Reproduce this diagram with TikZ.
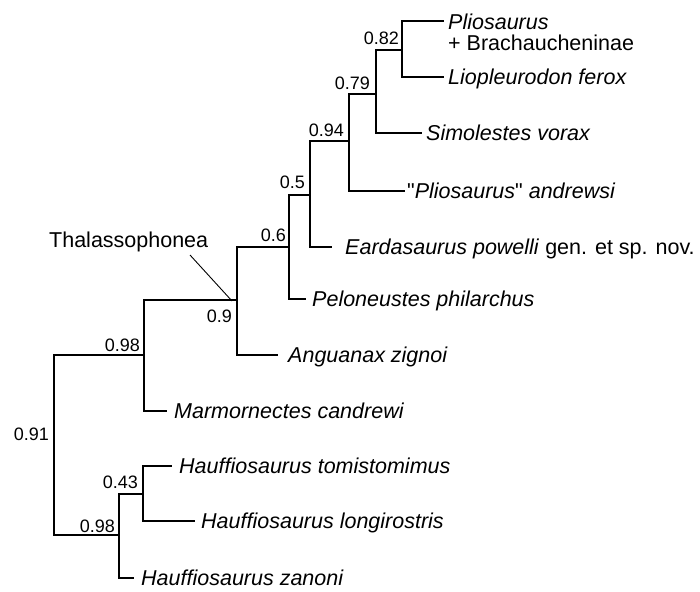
\documentclass[tikz,border=0pt]{standalone}
\usepackage{fontspec}
\setmainfont{Liberation Sans}[Ligatures=TeXOff]
\begin{document}
\begin{tikzpicture}[x=1pt,y=-1pt,
  branch/.style={line width=2.8pt,line join=miter},
  taxon/.style={anchor=base west,inner sep=0pt,font=\fontsize{21.5}{21}\selectfont},
  num/.style={anchor=base east,inner sep=0pt,font=\fontsize{18}{18}\selectfont},
  callout/.style={line width=0.9pt}]
\useasboundingbox (0,0) rectangle (700,591);
% internal nodes
\coordinate (root) at (54,445);
\coordinate (A) at (144,355);
\coordinate (T) at (237,300);
\coordinate (S6) at (289,247);
\coordinate (S5) at (310,195);
\coordinate (S94) at (349,141);
\coordinate (S79) at (376,94);
\coordinate (S82) at (402,50);
\coordinate (B) at (119,535);
\coordinate (C) at (143,494);
% leaves
\coordinate (plio) at (444,21);
\coordinate (lio) at (444,77);
\coordinate (sim) at (422,133);
\coordinate (and) at (405,191);
\coordinate (ear) at (332,247);
\coordinate (pel) at (306,299);
\coordinate (ang) at (278,355);
\coordinate (marm) at (167,411);
\coordinate (tom) at (172,466);
\coordinate (lon) at (195,521);
\coordinate (zan) at (134,578);
% branches
\draw[branch] (root) |- (A);
\draw[branch] (root) |- (B);
\draw[branch] (A) |- (T);
\draw[branch] (A) |- (marm);
\draw[branch] (T) |- (S6);
\draw[branch] (T) |- (ang);
\draw[branch] (S6) |- (S5);
\draw[branch] (S6) |- (pel);
\draw[branch] (S5) |- (S94);
\draw[branch] (S5) |- (ear);
\draw[branch] (S94) |- (S79);
\draw[branch] (S94) |- (and);
\draw[branch] (S79) |- (S82);
\draw[branch] (S79) |- (sim);
\draw[branch] (S82) |- (plio);
\draw[branch] (S82) |- (lio);
\draw[branch] (B) |- (C);
\draw[branch] (B) |- (zan);
\draw[branch] (C) |- (tom);
\draw[branch] (C) |- (lon);
% taxon names
\node[taxon,anchor=north west,align=left] (tplio) at (448,13.5) {\textit{Pliosaurus}\\+ Brachaucheninae};
\node[taxon] (tlio) at (448,84.5) {\textit{Liopleurodon ferox}};
\node[taxon] (tsim) at (426,140.5) {\textit{Simolestes vorax}};
\node[taxon] (tand) at (407,198.5) {"\textit{Pliosaurus}" \textit{andrewsi}};
\node[taxon] (tear) at (345,254.5) {\textit{Eardasaurus powelli} gen. et sp. nov.};
\node[taxon] (tpel) at (312,306.5) {\textit{Peloneustes philarchus}};
\node[taxon] (tang) at (288,362.5) {\textit{Anguanax zignoi}};
\node[taxon] (tmarm) at (174,418.5) {\textit{Marmornectes candrewi}};
\node[taxon] (ttom) at (179,473.5) {\textit{Hauffiosaurus tomistomimus}};
\node[taxon] (tlon) at (201,528.5) {\textit{Hauffiosaurus longirostris}};
\node[taxon] (tzan) at (141,585.5) {\textit{Hauffiosaurus zanoni}};
% support values
\node[num] (n82) at (399,45) {0.82};
\node[num] (n79) at (370,90) {0.79};
\node[num] (n94) at (344,136) {0.94};
\node[num] (n5) at (305,188) {0.5};
\node[num] (n6) at (286,241) {0.6};
\node[num] (n9) at (232,322) {0.9};
\node[num] (n98a) at (140,351) {0.98};
\node[num] (n91) at (49,440) {0.91};
\node[num] (n43) at (138,488) {0.43};
\node[num] (n98b) at (115,532) {0.98};
% clade label
\node[taxon] (thal) at (49,247) {Thalassophonea};
\coordinate (thalA) at (190,255);
\draw[callout] (thalA) -- ([xshift=-5pt,yshift=-1pt]T);
\end{tikzpicture}
\end{document}
